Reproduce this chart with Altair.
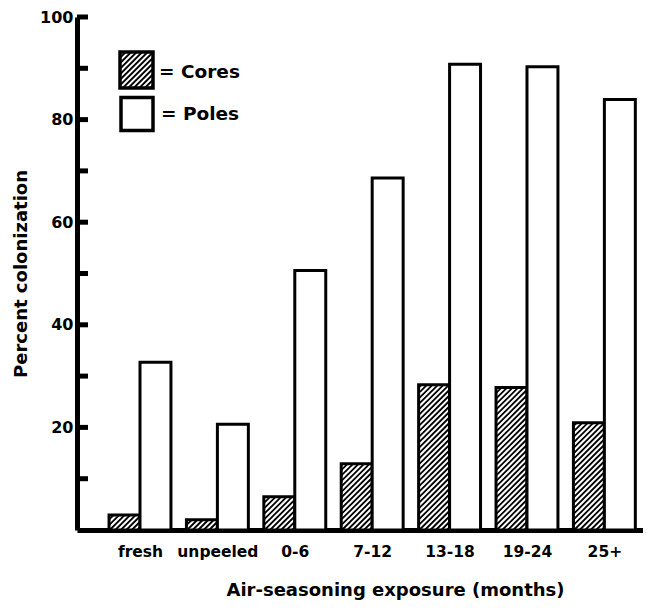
import altair as alt
import pandas as pd

# ---- data ----
categories = ["fresh", "unpeeled", "0-6", "7-12", "13-18", "19-24", "25+"]
cores = [2.9, 2.0, 6.5, 12.9, 28.3, 27.8, 20.9]
poles = [32.7, 20.6, 50.6, 68.6, 90.8, 90.3, 83.9]
series = ["Cores", "Poles"]
legend_labels = ["= Cores", "= Poles"]
y_tick_values = [10, 20, 30, 40, 50, 60, 70, 80, 90, 100]
y_label_values = [20, 40, 60, 80, 100]

# ---- layout constants ----
W, H = 566, 513
X_DOMAIN = [-0.814, 6.499]
BAR = 0.4                       # bar width in category units
PXX = W / (X_DOMAIN[1] - X_DOMAIN[0])
PXY = H / 100.0
HATCH = 5.5                     # vertical period of hatch lines, px
FONT = "DejaVu Sans"

def px_x(px):
    return X_DOMAIN[0] + px / PXX

def px_y(py):
    return 100 - py / PXY

rows = []
for i, cat in enumerate(categories):
    rows.append(dict(category=cat, series=series[0], x0=i - BAR, x1=i, y0=0.0, y1=cores[i]))
    rows.append(dict(category=cat, series=series[1], x0=i, x1=i + BAR, y0=0.0, y1=poles[i]))
bars = pd.DataFrame(rows)

# legend boxes (pixel layout converted to data units)
leg_boxes = pd.DataFrame([
    dict(series=series[0], x0=px_x(43), x1=px_x(76), y0=px_y(71), y1=px_y(35)),
    dict(series=series[1], x0=px_x(44), x1=px_x(76), y0=px_y(113.5), y1=px_y(80.5)),
])
leg_text = pd.DataFrame([
    dict(label=legend_labels[0], x=px_x(82), y=px_y(55)),
    dict(label=legend_labels[1], x=px_x(84), y=px_y(97)),
])

xscale = alt.Scale(domain=X_DOMAIN, nice=False, zero=False)
yscale = alt.Scale(domain=[0, 100], nice=False)

label_expr = "[" + ",".join("'" + c + "'" for c in categories) + "][datum.value]"

X_TITLE = "Air-seasoning exposure (months)"
Y_TITLE = "Percent colonization"

xaxis = alt.Axis(
    values=list(range(len(categories))), labelExpr=label_expr, grid=False, ticks=False,
    tickSize=0, domainWidth=5, domainColor="black", labelFont=FONT, labelFontSize=15.5,
    labelFontWeight="bold", labelColor="black", labelPadding=14,
    title=X_TITLE, titleFont=FONT, titleFontSize=18,
    titleFontWeight="bold", titleColor="black", titlePadding=22, titleX=318)
yaxis = alt.Axis(
    values=y_label_values, grid=False, ticks=False, tickSize=0, domainWidth=5,
    domainColor="black", labelFont=FONT, labelFontSize=16, labelFontWeight="bold",
    labelColor="black", labelPadding=4,
    title=Y_TITLE, titleFont=FONT, titleFontSize=18,
    titleFontWeight="bold", titleColor="black", titlePadding=9)

def X(field):
    return alt.X(field, scale=xscale, axis=xaxis, title=X_TITLE)

def Y(field):
    return alt.Y(field, scale=yscale, axis=yaxis, title=Y_TITLE)

bar_layer = alt.Chart(bars).mark_bar(fill="white", stroke="black", strokeWidth=3).encode(
    x=X("x0:Q"), x2="x1:Q", y=Y("y1:Q"), y2="y0:Q",
)

def hatch(df):
    return (
        alt.Chart(df)
        .transform_filter(f"datum.series == '{series[0]}'")
        .transform_calculate(w=f"(datum.x1 - datum.x0) * {PXX}")
        .transform_calculate(h=f"(datum.y1 - datum.y0) * {PXY}")
        .transform_calculate(cs=f"sequence(-datum.w + {HATCH / 2}, datum.h, {HATCH})")
        .transform_flatten(["cs"], as_=["c"])
        .transform_calculate(a="max(0, -datum.c)")
        .transform_calculate(b="min(datum.w, datum.h - datum.c)")
        .transform_filter("datum.b > datum.a")
        .transform_calculate(xa=f"datum.x0 + datum.a / {PXX}")
        .transform_calculate(xb=f"datum.x0 + datum.b / {PXX}")
        .transform_calculate(ya=f"datum.y0 + (datum.a + datum.c) / {PXY}")
        .transform_calculate(yb=f"datum.y0 + (datum.b + datum.c) / {PXY}")
        .mark_rule(color="black", strokeWidth=1.8)
        .encode(x=X("xa:Q"), x2="xb:Q", y=Y("ya:Q"), y2="yb:Q")
    )

ticks = alt.Chart(pd.DataFrame({"v": y_tick_values})).mark_rule(color="black", strokeWidth=5).encode(
    y=Y("v:Q"), x=alt.value(0), x2=alt.value(11),
)

leg_rect = alt.Chart(leg_boxes).mark_rect(fill="white", stroke="black", strokeWidth=3.5).encode(
    x=X("x0:Q"), x2="x1:Q", y=Y("y0:Q"), y2="y1:Q",
)
leg_txt = alt.Chart(leg_text).mark_text(align="left", baseline="middle", font=FONT,
                                         fontSize=18.5, fontWeight="bold", color="black").encode(
    x=X("x:Q"), y=Y("y:Q"), text="label:N",
)

chart = alt.layer(
    bar_layer, hatch(bars), ticks, leg_rect, hatch(leg_boxes), leg_txt
).properties(
    width=W, height=H,
    autosize=alt.AutoSizeParams(type="none"),
    padding={"left": 69, "top": 9, "right": 0, "bottom": 72},
    background="white",
).configure_view(stroke=None)

chart.save("out.html", embed_options={"renderer": "svg", "actions": False})
